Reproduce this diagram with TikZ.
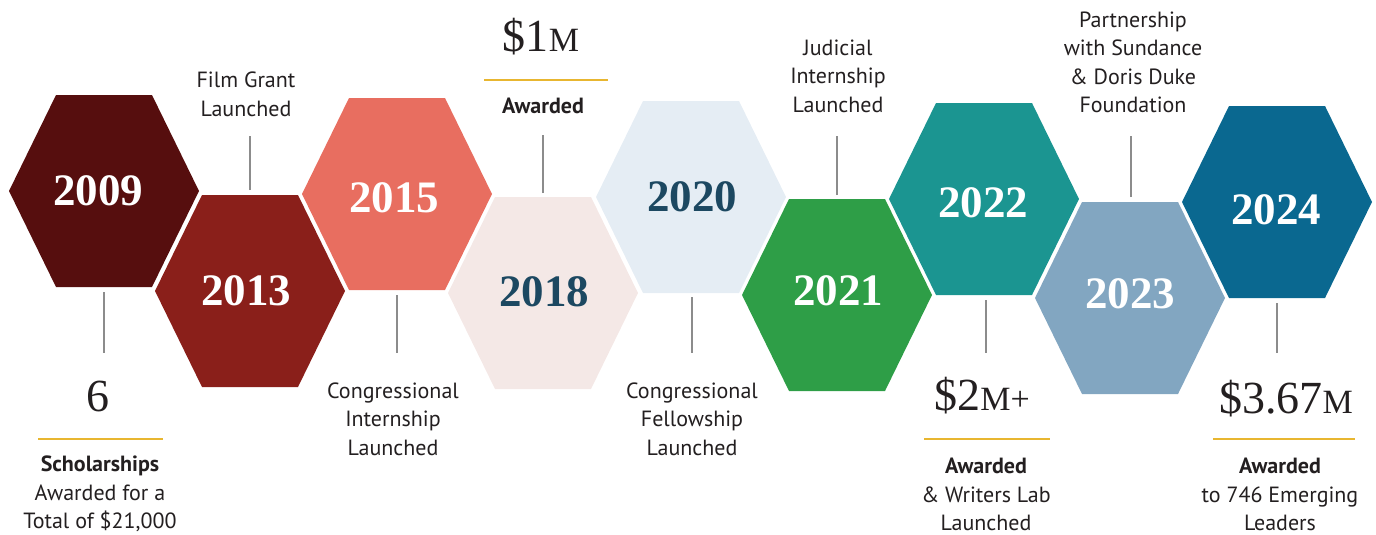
\documentclass[tikz,border=0pt]{standalone}
\usepackage{fontspec}
\setmainfont{PT Sans}
\newfontfamily\serifnum{Liberation Serif}
\definecolor{c2009}{HTML}{560E0E}
\definecolor{c2013}{HTML}{8A1F1A}
\definecolor{c2015}{HTML}{E86E60}
\definecolor{c2018}{HTML}{F4E8E6}
\definecolor{c2020}{HTML}{E5EDF4}
\definecolor{c2021}{HTML}{2E9E47}
\definecolor{c2022}{HTML}{1B9591}
\definecolor{c2023}{HTML}{82A6C1}
\definecolor{c2024}{HTML}{0A6890}
\definecolor{navy}{HTML}{1C4861}
\definecolor{txt}{HTML}{231F20}
\definecolor{linegray}{HTML}{8C8C8C}
\definecolor{goldc}{HTML}{E8B630}
\tikzset{
  hexnode/.style={minimum width=190pt, minimum height=192pt, inner sep=0pt,
    font=\serifnum\bfseries\fontsize{45}{45}\selectfont, text=white},
  lbl/.style={align=center, inner sep=0pt, text=txt,
    font=\fontsize{22}{28.5}\selectfont},
  bignum/.style={inner sep=0pt, text=txt, font=\serifnum\fontsize{46}{46}\selectfont},
  conn/.style={draw=linegray, line width=1.3pt},
  goldline/.style={draw=goldc, line width=1.6pt},
}
\newcommand\hexshape[3]{\fill[#3] (#1-95,#2) -- (#1-48,#2-96) -- (#1+48,#2-96) -- (#1+95,#2) -- (#1+48,#2+96) -- (#1-48,#2+96) -- cycle;}
\newcommand\smc[1]{{\fontsize{34}{34}\selectfont #1}}
\begin{document}
\begin{tikzpicture}[x=1pt,y=-1pt]
\useasboundingbox (0,0) rectangle (1376,535);
% hexagons
\hexshape{104}{191}{c2009}
\hexshape{250}{291}{c2013}
\hexshape{397}{194}{c2015}
\hexshape{543}{293}{c2018}
\hexshape{691}{197}{c2020}
\hexshape{837}{295}{c2021}
\hexshape{984}{199}{c2022}
\hexshape{1130}{298}{c2023}
\hexshape{1277}{202}{c2024}
\node[hexnode] (h2009) at (98,191) {2009};
\node[hexnode] (h2013) at (246,291) {2013};
\node[hexnode] (h2015) at (394,198) {2015};
\node[hexnode, text=navy] (h2018) at (544,292) {2018};
\node[hexnode, text=navy] (h2020) at (692,197) {2020};
\node[hexnode] (h2021) at (838,291) {2021};
\node[hexnode] (h2022) at (983,203) {2022};
\node[hexnode] (h2023) at (1130,294) {2023};
\node[hexnode] (h2024) at (1276,210) {2024};
% labels
\node[bignum] (n6) at (98,396) {6};
\node[lbl] (l2009) at (100,494) {\textbf{Scholarships}\\Awarded for a\\Total of \$21,000};
\node[lbl] (l2013) at (246,94.5) {Film Grant\\Launched};
\node[lbl] (l2015) at (393,419) {Congressional\\Internship\\Launched};
\node[bignum] (n1m) at (541,37) {\$1\smc{M}};
\node[lbl] (l2018) at (543,106) {\textbf{Awarded}};
\node[lbl] (l2020) at (692,419) {Congressional\\Fellowship\\Launched};
\node[lbl] (l2021) at (838,76) {Judicial\\Internship\\Launched};
\node[bignum] (n2m) at (982,396) {\$2\smc{M+}};
\node[lbl] (l2022) at (986,494.5) {\textbf{Awarded}\\\& Writers Lab\\Launched};
\node[lbl] (l2023) at (1133,62.5) {Partnership\\with Sundance\\\& Doris Duke\\Foundation};
\node[bignum] (n367) at (1286,399) {\$3.67\smc{M}};
\node[lbl] (l2024) at (1280,494.5) {\textbf{Awarded}\\to 746 Emerging\\Leaders};
% connector end points
\coordinate (a2009) at (104,292); \coordinate (b2009) at (104,353);
\coordinate (a2013) at (250,190); \coordinate (b2013) at (250,136);
\coordinate (a2015) at (397,295); \coordinate (b2015) at (397,353);
\coordinate (a2018) at (543,193); \coordinate (b2018) at (543,135);
\coordinate (a2020) at (692,297); \coordinate (b2020) at (692,353);
\coordinate (a2021) at (837,195); \coordinate (b2021) at (837,136);
\coordinate (a2022) at (986,300); \coordinate (b2022) at (986,353);
\coordinate (a2023) at (1131,197); \coordinate (b2023) at (1131,136);
\coordinate (a2024) at (1277,303); \coordinate (b2024) at (1277,353);
\foreach \y in {2009,2013,2015,2018,2020,2021,2022,2023,2024}
  \draw[conn] (a\y) -- (b\y);
% gold rules
\coordinate (g1a) at (38,439); \coordinate (g1b) at (163,439);
\coordinate (g2a) at (484,80); \coordinate (g2b) at (608,80);
\coordinate (g3a) at (924,439); \coordinate (g3b) at (1050,439);
\coordinate (g4a) at (1213,439); \coordinate (g4b) at (1355,439);
\draw[goldline] (g1a) -- (g1b);
\draw[goldline] (g2a) -- (g2b);
\draw[goldline] (g3a) -- (g3b);
\draw[goldline] (g4a) -- (g4b);
\end{tikzpicture}
\end{document}
